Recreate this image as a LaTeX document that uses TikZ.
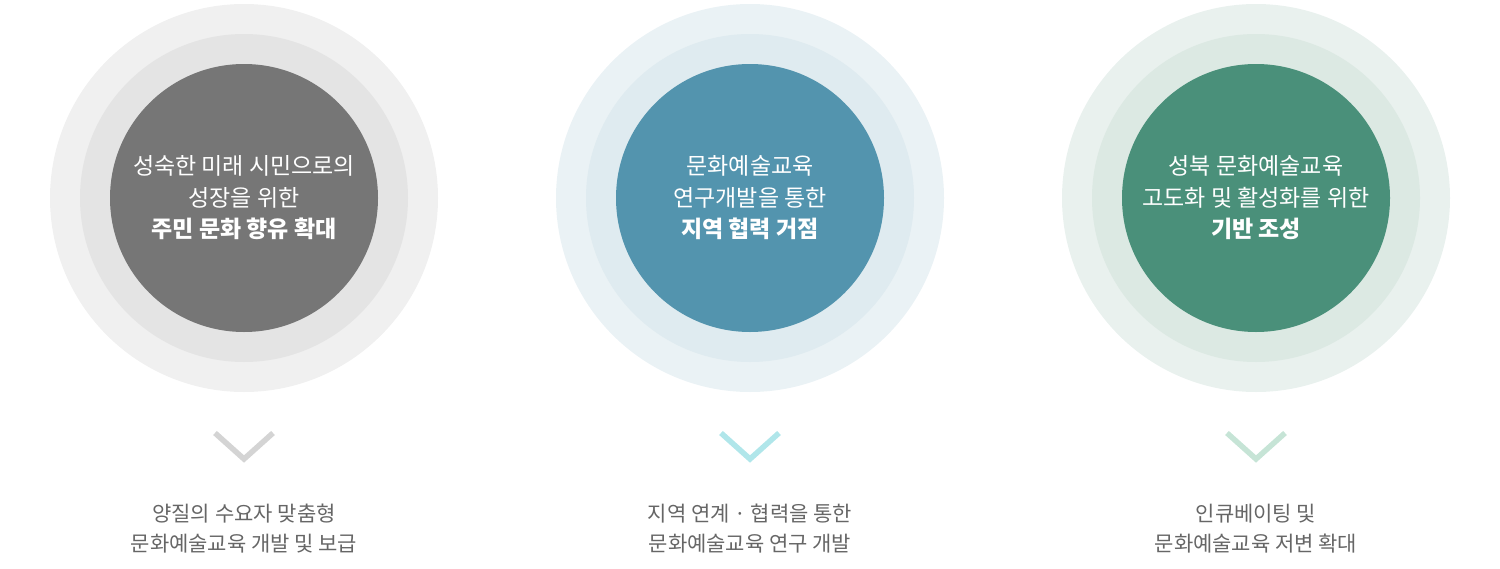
\documentclass[tikz,border=0pt]{standalone}
\usepackage{fontspec}
\setmainfont{Noto Sans CJK KR}
\newfontfamily\kr{Noto Sans CJK KR}
\definecolor{gA}{HTML}{F0F0F0}
\definecolor{gB}{HTML}{E4E4E4}
\definecolor{gC}{HTML}{767676}
\definecolor{bA}{HTML}{EAF2F5}
\definecolor{bB}{HTML}{DFEBF0}
\definecolor{bC}{HTML}{5394AE}
\definecolor{nA}{HTML}{E9F1EE}
\definecolor{nB}{HTML}{DCE9E3}
\definecolor{nC}{HTML}{4A907A}
\definecolor{chG}{HTML}{D4D4D4}
\definecolor{chB}{HTML}{B0E6EA}
\definecolor{chN}{HTML}{C6E4D6}
\definecolor{txt}{HTML}{666666}
\tikzset{
  ring/.style={circle, inner sep=0pt, draw=none},
  ctext/.style={text=white, align=center, font=\kr\fontsize{23}{31.5}\selectfont},
  btext/.style={text=txt, align=center, font=\kr\fontsize{21}{30}\selectfont},
  chev/.style={line width=5.5pt, line cap=butt, line join=miter}
}
\begin{document}
\begin{tikzpicture}[x=1pt,y=-1pt]
\useasboundingbox (0,0) rectangle (1500,568);
\foreach \cx/\a/\b/\c/\n in {244/gA/gB/gC/l, 750/bA/bB/bC/m, 1256/nA/nB/nC/r}{
  \node[ring, fill=\a, minimum size=388pt] (\n o) at (\cx,198) {};
  \node[ring, fill=\b, minimum size=328pt] (\n m) at (\cx,198) {};
  \node[ring, fill=\c, minimum size=268pt] (\n i) at (\cx,198) {};
}
\node[ctext] (lt) at (244,198) {성숙한 미래 시민으로의\\성장을 위한\\\textbf{주민 문화 향유 확대}};
\node[ctext] (mt) at (750,198) {문화예술교육\\연구개발을 통한\\\textbf{지역 협력 거점}};
\node[ctext] (rt) at (1256,198) {성북 문화예술교육\\고도화 및 활성화를 위한\\\textbf{기반 조성}};
\foreach \cx/\col/\n in {244/chG/l, 750/chB/m, 1256/chN/r}{
  \coordinate (\n a) at (\cx-29,433);
  \coordinate (\n b) at (\cx,459);
  \coordinate (\n c) at (\cx+29,433);
  \draw[chev, draw=\col] (\n a) -- (\n b) -- (\n c);
}
\node[btext] (lb) at (244,529) {양질의 수요자 맞춤형\\문화예술교육 개발 및 보급};
\node[btext] (mb) at (750,529) {지역 연계 · 협력을 통한\\문화예술교육 연구 개발};
\node[btext] (rb) at (1256,529) {인큐베이팅 및\\문화예술교육 저변 확대};
\end{tikzpicture}
\end{document}
